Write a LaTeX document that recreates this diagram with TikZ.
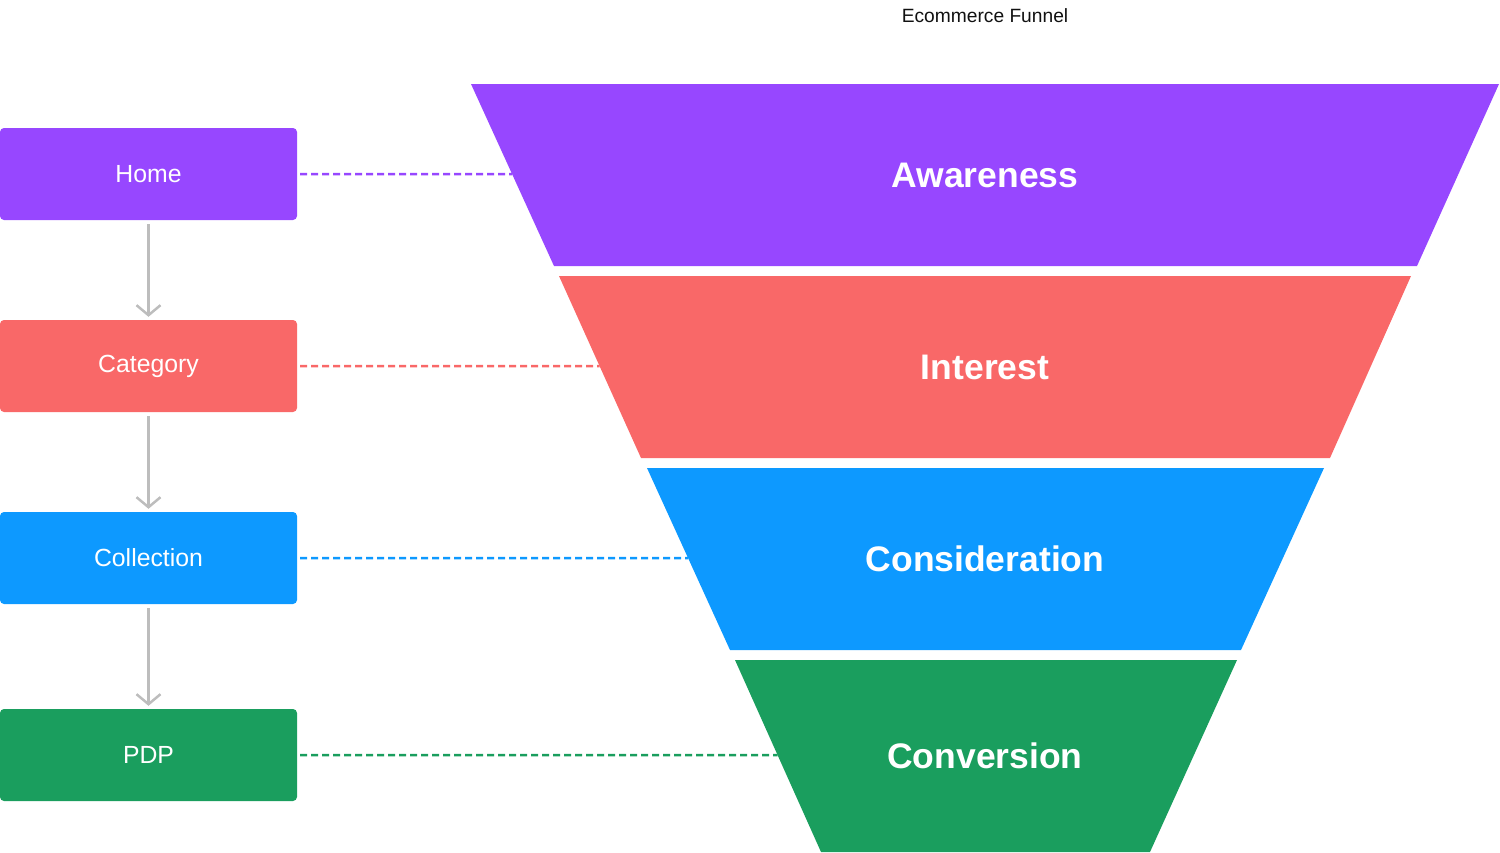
\documentclass[tikz,border=0pt]{standalone}
\usepackage{fontspec}
\setmainfont{Liberation Sans}
\usetikzlibrary{arrows.meta,calc}
\definecolor{cPurple}{HTML}{9747FF}
\definecolor{cCoral}{HTML}{F96868}
\definecolor{cBlue}{HTML}{0D99FF}
\definecolor{cGreen}{HTML}{1A9E5E}
\definecolor{cArrow}{HTML}{BDBDBD}
\definecolor{cTitle}{HTML}{111111}

\begin{document}
\begin{tikzpicture}[x=1pt,y=-1pt,
  pagebox/.style={fill=#1, rounded corners=4pt, minimum width=297pt,
    minimum height=92pt, inner sep=0pt, text=white,
    font=\fontsize{24.8}{26}\selectfont},
  link/.style={draw=#1, dash pattern=on 7pt off 4pt, line width=2.5pt},
  flow/.style={draw=cArrow, line width=2.5pt,
    -{Straight Barb[length=10pt,width=24pt,line width=2.5pt]},
    shorten <=4pt, shorten >=3pt},
  stage/.style={text=white, inner sep=0pt, font=\bfseries\fontsize{35.5}{37}\selectfont},
]
\useasboundingbox (0,0) rectangle (1500,852);

% title
\node[text=cTitle, font=\fontsize{19.2}{20}\selectfont] (title) at (985,15.5) {Ecommerce Funnel};

% funnel corner coordinates (top-left, top-right, bottom-right, bottom-left)
\coordinate (a-tl) at (471,84);  \coordinate (a-tr) at (1499,84);
\coordinate (a-br) at (1417,266); \coordinate (a-bl) at (554,266);
\coordinate (i-tl) at (559,276);  \coordinate (i-tr) at (1411,276);
\coordinate (i-br) at (1330,458); \coordinate (i-bl) at (641,458);
\coordinate (c-tl) at (647,468);  \coordinate (c-tr) at (1324,468);
\coordinate (c-br) at (1241,650); \coordinate (c-bl) at (730,650);
\coordinate (v-tl) at (735,660);  \coordinate (v-tr) at (1237,660);
\coordinate (v-br) at (1150,852); \coordinate (v-bl) at (821,852);

% points where the dashed links meet the funnel
\coordinate (a-in) at ($(a-tl)!0.495!(a-bl)$);
\coordinate (i-in) at ($(i-tl)!0.495!(i-bl)$);
\coordinate (c-in) at ($(c-tl)!0.495!(c-bl)$);
\coordinate (v-in) at ($(v-tl)!0.495!(v-bl)$);

% page boxes
\node[pagebox=cPurple] (home) at (148.5,174) {Home};
\node[pagebox=cCoral] (category) at (148.5,366) {Category};
\node[pagebox=cBlue] (collection) at (148.5,558) {Collection};
\node[pagebox=cGreen] (pdp) at (148.5,755) {PDP};

% flow between pages
\draw[flow] (home.south) -- (category.north);
\draw[flow] (category.south) -- (collection.north);
\draw[flow] (collection.south) -- (pdp.north);

% dashed links to the funnel stages
\draw[link=cPurple] ([xshift=3pt]home.east) -- (a-in);
\draw[link=cCoral] ([xshift=3pt]category.east) -- (i-in);
\draw[link=cBlue] ([xshift=3pt]collection.east) -- (c-in);
\draw[link=cGreen] ([xshift=3pt]pdp.east) -- (v-in);

% funnel stages
\fill[cPurple] (a-tl) -- (a-tr) -- (a-br) -- (a-bl) -- cycle;
\fill[cCoral] (i-tl) -- (i-tr) -- (i-br) -- (i-bl) -- cycle;
\fill[cBlue] (c-tl) -- (c-tr) -- (c-br) -- (c-bl) -- cycle;
\fill[cGreen] (v-tl) -- (v-tr) -- (v-br) -- (v-bl) -- cycle;

\node[stage] (awareness) at (985,175) {Awareness};
\node[stage] (interest) at (985,367) {Interest};
\node[stage] (consideration) at (985,559) {Consideration};
\node[stage] (conversion) at (985,756) {Conversion};
\end{tikzpicture}
\end{document}
